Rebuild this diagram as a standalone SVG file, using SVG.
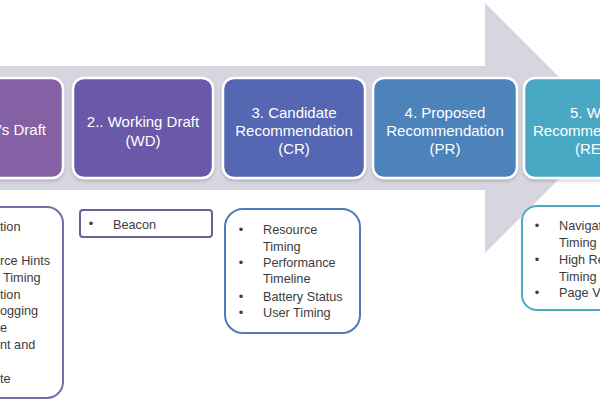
<svg xmlns="http://www.w3.org/2000/svg" width="600" height="400" viewBox="0 0 600 400">
  <defs>
    <filter id="sh" x="-10%" y="-10%" width="120%" height="130%">
      <feDropShadow dx="0" dy="2" stdDeviation="1.5" flood-color="#000" flood-opacity="0.18"/>
    </filter>
  </defs>
  <style>
    .stage { stroke: #ffffff; stroke-width: 2.5; filter: url(#sh); }
    .stage-text { font-family: "Liberation Sans", Arial, sans-serif; font-size: 15px; fill: #ffffff; text-anchor: middle; }
    .list { fill: #ffffff; stroke-width: 2; }
    .item { font-family: "Liberation Sans", Arial, sans-serif; font-size: 12.7px; fill: #3c3c3c; }
    .bullet { font-family: "Liberation Sans", Arial, sans-serif; font-size: 12.7px; fill: #3c3c3c; text-anchor: middle; }
  </style>
  <rect width="600" height="400" fill="#ffffff"/>

  <g id="arrow">
    <polygon points="-10,66 485,66 485,3 610,128 485,253 485,190 -10,190" fill="#d7d6e0"/>
  </g>

  <g id="stage1">
    <rect class="stage" x="-80" y="78" width="143" height="100" rx="11" fill="#8461a4"/>
    <text class="stage-text" x="46" y="135" style="text-anchor:end">’s Draft</text>
  </g>
  <g id="stage2">
    <rect class="stage" x="73" y="78" width="140" height="100" rx="11" fill="#6a59a9"/>
    <text class="stage-text" x="143" y="127">2.. Working Draft</text>
    <text class="stage-text" x="143" y="146">(WD)</text>
  </g>
  <g id="stage3">
    <rect class="stage" x="223" y="78" width="142" height="100" rx="11" fill="#5566b3"/>
    <text class="stage-text" x="294" y="118">3. Candidate</text>
    <text class="stage-text" x="294" y="136">Recommendation</text>
    <text class="stage-text" x="294" y="154">(CR)</text>
  </g>
  <g id="stage4">
    <rect class="stage" x="373" y="78" width="144" height="100" rx="11" fill="#4e83bb"/>
    <text class="stage-text" x="445" y="118">4. Proposed</text>
    <text class="stage-text" x="445" y="136">Recommendation</text>
    <text class="stage-text" x="445" y="154">(PR)</text>
  </g>
  <g id="stage5">
    <rect class="stage" x="524" y="78" width="142" height="100" rx="11" fill="#48a9c5"/>
    <text class="stage-text" x="570" y="118" style="text-anchor:start">5. W</text>
    <text class="stage-text" x="533" y="136" style="text-anchor:start">Recomme</text>
    <text class="stage-text" x="575" y="154" style="text-anchor:start">(RE</text>
  </g>

  <g id="list1">
    <rect class="list" x="-80" y="207" width="143" height="191" rx="16" stroke="#7b6cab"/>
    <text class="item" x="0" y="231">tion</text>
    <text class="item" x="0" y="265">rce Hints</text>
    <text class="item" x="3" y="282">Timing</text>
    <text class="item" x="0" y="299">tion</text>
    <text class="item" x="0" y="315">ogging</text>
    <text class="item" x="0" y="332">e</text>
    <text class="item" x="0" y="349">nt and</text>
    <text class="item" x="0" y="383">te</text>
  </g>

  <g id="list2">
    <rect class="list" x="80" y="210" width="132" height="27" rx="3" stroke="#6b5f9c"/>
    <text class="bullet" x="91" y="228">•</text>
    <text class="item" x="113" y="229">Beacon</text>
  </g>

  <g id="list3">
    <rect class="list" x="225" y="209" width="135" height="124" rx="18" stroke="#4f7bb9"/>
    <text class="bullet" x="241" y="234">•</text>
    <text class="item" x="263" y="234">Resource</text>
    <text class="item" x="263" y="251">Timing</text>
    <text class="bullet" x="241" y="267">•</text>
    <text class="item" x="263" y="267">Performance</text>
    <text class="item" x="263" y="283">Timeline</text>
    <text class="bullet" x="241" y="301">•</text>
    <text class="item" x="263" y="301">Battery Status</text>
    <text class="bullet" x="241" y="317">•</text>
    <text class="item" x="263" y="317">User Timing</text>
  </g>

  <g id="list5">
    <rect class="list" x="522" y="206" width="140" height="104" rx="15" stroke="#4aa9c4"/>
    <text class="bullet" x="537" y="230">•</text>
    <text class="item" x="559" y="230">Navigat</text>
    <text class="item" x="559" y="247">Timing</text>
    <text class="bullet" x="537" y="264">•</text>
    <text class="item" x="559" y="264">High Re</text>
    <text class="item" x="559" y="281">Timing</text>
    <text class="bullet" x="537" y="297">•</text>
    <text class="item" x="559" y="297">Page Vi</text>
  </g>
</svg>
